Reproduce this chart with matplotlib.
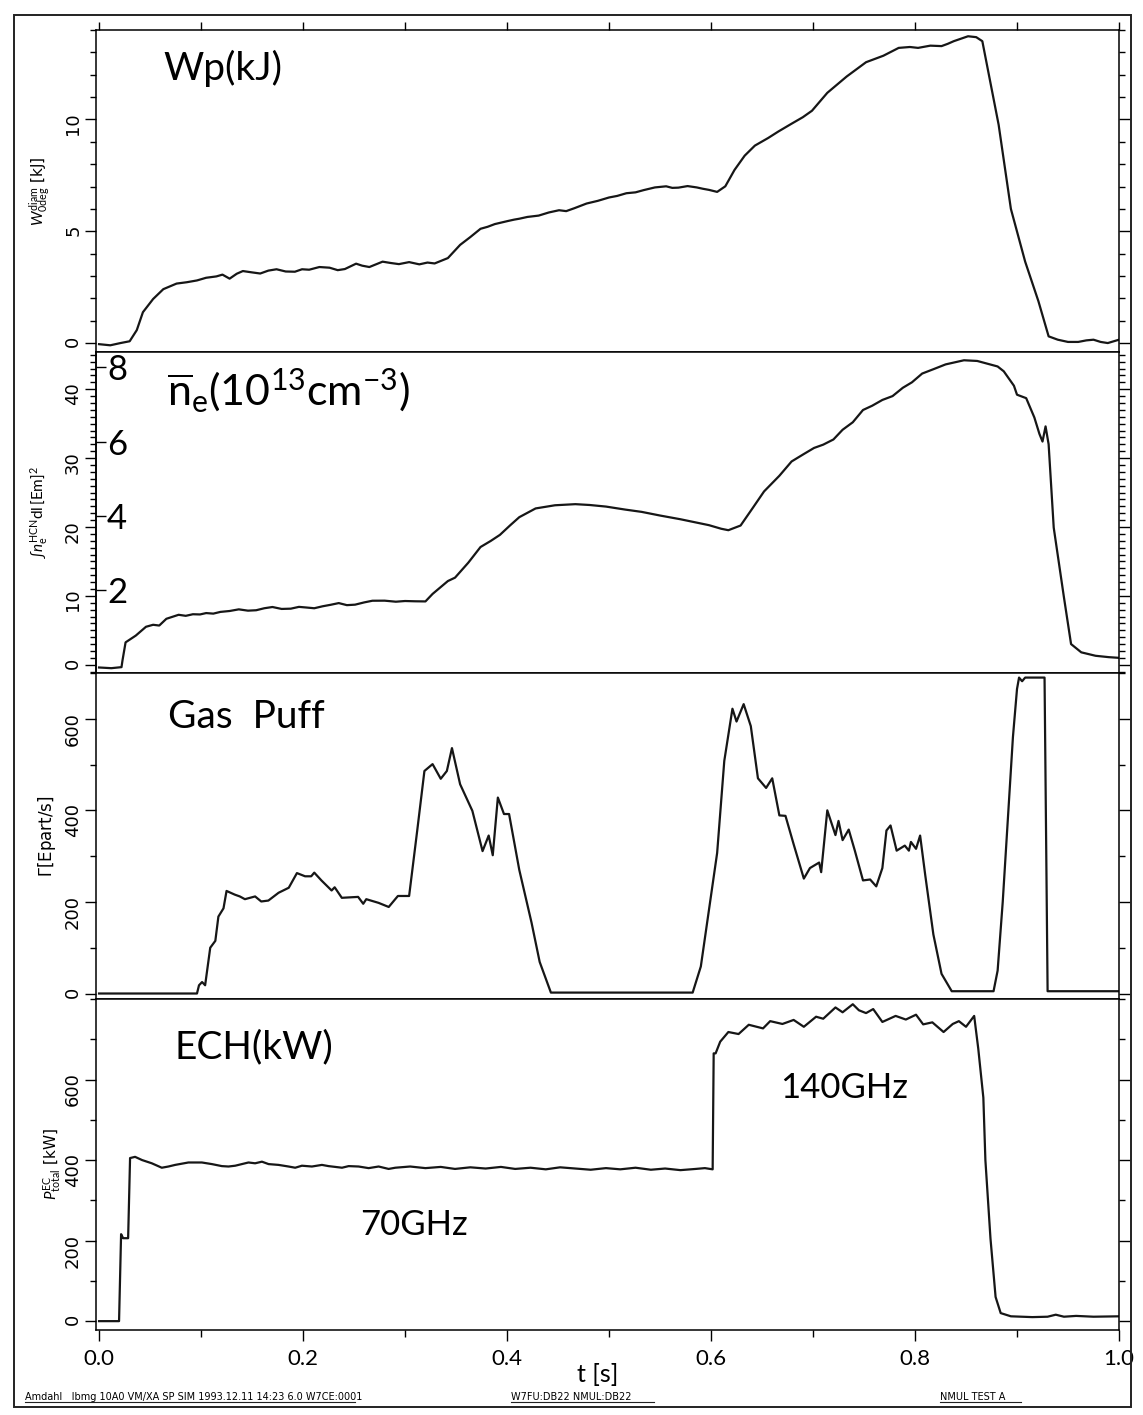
import matplotlib
matplotlib.use("Agg")
import matplotlib.pyplot as plt
from matplotlib.ticker import MultipleLocator, FixedLocator
from matplotlib.lines import Line2D
from matplotlib.patches import Rectangle

plt.rcParams['font.family'] = ['DejaVu Sans']
plt.rcParams['mathtext.fontset'] = 'custom'
plt.rcParams['mathtext.rm'] = 'Lato'
plt.rcParams['mathtext.it'] = 'Lato:italic'
plt.rcParams['mathtext.sf'] = 'Lato'

# ---- shot data: time [s] and signals ----
wp_t = [0.000, 0.011, 0.021, 0.030, 0.037, 0.043, 0.053, 0.063, 0.076, 0.086,
        0.096, 0.105, 0.115, 0.121, 0.128, 0.135, 0.141, 0.150, 0.158, 0.166,
        0.174, 0.183, 0.192, 0.199, 0.206, 0.216, 0.226, 0.234, 0.241, 0.252,
        0.258, 0.265, 0.278, 0.286, 0.294, 0.304, 0.314, 0.322, 0.329, 0.342,
        0.354, 0.364, 0.374, 0.381, 0.388, 0.401, 0.407, 0.412, 0.420, 0.431,
        0.441, 0.451, 0.458, 0.466, 0.478, 0.489, 0.500, 0.508, 0.517, 0.526,
        0.534, 0.545, 0.556, 0.562, 0.568, 0.577, 0.586, 0.592, 0.598, 0.606,
        0.614, 0.623, 0.633, 0.643, 0.656, 0.666, 0.679, 0.690, 0.699, 0.714,
        0.733, 0.752, 0.769, 0.784, 0.795, 0.803, 0.815, 0.826, 0.832, 0.838,
        0.852, 0.860, 0.866, 0.882, 0.894, 0.908, 0.921, 0.931, 0.940, 0.950,
        0.960, 0.968, 0.975, 0.982, 0.989, 1.000]
wp_kj = [-0.05, -0.10, 0.00, 0.08, 0.58, 1.38, 1.97, 2.41, 2.66, 2.72,
         2.80, 2.92, 2.98, 3.06, 2.88, 3.10, 3.22, 3.16, 3.11, 3.24,
         3.30, 3.20, 3.19, 3.30, 3.28, 3.40, 3.37, 3.26, 3.31, 3.55,
         3.46, 3.40, 3.64, 3.58, 3.53, 3.62, 3.52, 3.60, 3.56, 3.80,
         4.39, 4.74, 5.11, 5.20, 5.32, 5.46, 5.52, 5.56, 5.64, 5.70,
         5.84, 5.94, 5.90, 6.03, 6.24, 6.36, 6.51, 6.58, 6.70, 6.74,
         6.84, 6.96, 7.01, 6.94, 6.95, 7.02, 6.96, 6.90, 6.85, 6.76,
         7.01, 7.74, 8.38, 8.83, 9.17, 9.46, 9.81, 10.10, 10.39, 11.19,
         11.92, 12.56, 12.85, 13.20, 13.24, 13.20, 13.30, 13.28, 13.38, 13.50,
         13.72, 13.68, 13.50, 9.76, 6.00, 3.64, 1.87, 0.30, 0.15, 0.05,
         0.05, 0.12, 0.15, 0.05, 0.00, 0.15]

ne_t = [0.000, 0.012, 0.022, 0.023, 0.026, 0.036, 0.046, 0.053, 0.059, 0.066,
        0.078, 0.085, 0.092, 0.099, 0.105, 0.112, 0.119, 0.128, 0.137, 0.146,
        0.154, 0.162, 0.170, 0.179, 0.188, 0.196, 0.203, 0.211, 0.219, 0.227,
        0.235, 0.243, 0.251, 0.260, 0.268, 0.280, 0.291, 0.300, 0.310, 0.320,
        0.327, 0.342, 0.349, 0.362, 0.374, 0.384, 0.393, 0.403, 0.412, 0.428,
        0.447, 0.467, 0.481, 0.497, 0.516, 0.532, 0.550, 0.570, 0.584, 0.598,
        0.610, 0.617, 0.629, 0.641, 0.652, 0.667, 0.679, 0.691, 0.701, 0.710,
        0.720, 0.729, 0.739, 0.749, 0.758, 0.768, 0.778, 0.788, 0.797, 0.807,
        0.818, 0.830, 0.848, 0.861, 0.881, 0.887, 0.897, 0.900, 0.909, 0.917,
        0.922, 0.925, 0.928, 0.931, 0.936, 0.946, 0.953, 0.963, 0.977, 0.990,
        1.000]
ne_int = [-0.40, -0.50, -0.35, 0.65, 3.25, 4.23, 5.51, 5.80, 5.69, 6.67,
          7.25, 7.10, 7.33, 7.30, 7.50, 7.42, 7.67, 7.80, 8.04, 7.85,
          7.91, 8.20, 8.38, 8.10, 8.14, 8.40, 8.31, 8.20, 8.48, 8.70,
          8.95, 8.65, 8.72, 9.05, 9.29, 9.30, 9.15, 9.25, 9.21, 9.19,
          10.28, 12.15, 12.64, 14.81, 17.09, 17.97, 18.85, 20.23, 21.42, 22.69,
          23.15, 23.31, 23.19, 22.96, 22.52, 22.19, 21.66, 21.12, 20.69, 20.26,
          19.74, 19.53, 20.21, 22.78, 25.16, 27.43, 29.51, 30.59, 31.47, 31.95,
          32.70, 34.11, 35.20, 36.98, 37.60, 38.44, 39.00, 40.20, 41.00, 42.27,
          42.90, 43.60, 44.20, 44.10, 43.30, 42.60, 40.50, 39.20, 38.70, 35.90,
          33.50, 32.40, 34.60, 32.00, 19.90, 9.80, 3.00, 1.80, 1.30, 1.10,
          1.00]
ne_ticks = [2, 4, 6, 8]
ne_per_unit = 5.4   # line integral per 10^13 cm^-3

gas_t = [0.000, 0.096, 0.098, 0.101, 0.104, 0.109, 0.114, 0.117, 0.122, 0.125,
         0.133, 0.138, 0.143, 0.153, 0.159, 0.166, 0.176, 0.186, 0.194, 0.202,
         0.208, 0.211, 0.218, 0.228, 0.231, 0.238, 0.254, 0.259, 0.262, 0.274,
         0.284, 0.293, 0.304, 0.312, 0.319, 0.327, 0.335, 0.341, 0.346, 0.354,
         0.366, 0.376, 0.382, 0.386, 0.391, 0.397, 0.402, 0.412, 0.424, 0.432,
         0.443, 0.582, 0.590, 0.606, 0.613, 0.621, 0.625, 0.632, 0.639, 0.646,
         0.654, 0.660, 0.667, 0.673, 0.681, 0.691, 0.697, 0.706, 0.708, 0.714,
         0.722, 0.725, 0.729, 0.735, 0.741, 0.749, 0.756, 0.762, 0.768, 0.772,
         0.776, 0.782, 0.790, 0.794, 0.796, 0.801, 0.805, 0.810, 0.818, 0.826,
         0.836, 0.877, 0.881, 0.886, 0.891, 0.896, 0.900, 0.902, 0.905, 0.908,
         0.927, 0.930, 1.000]
gas_rate = [0, 0, 18, 25, 18, 100, 115, 168, 186, 224,
            216, 212, 206, 212, 201, 203, 220, 231, 263, 256,
            256, 264, 247, 225, 232, 209, 211, 196, 206, 198,
            189, 213, 213, 357, 486, 501, 469, 486, 536, 457,
            399, 311, 345, 302, 428, 392, 392, 270, 155, 69,
            2, 2, 59, 307, 508, 622, 594, 632, 584, 470,
            449, 470, 389, 388, 326, 251, 274, 286, 265, 400,
            346, 377, 335, 358, 312, 247, 249, 234, 274, 356,
            367, 312, 323, 312, 331, 316, 345, 259, 129, 43,
            5, 5, 50, 200, 380, 560, 665, 690, 682, 690,
            690, 5, 5]

ech_t = [0.000, 0.0196, 0.0216, 0.0236, 0.0285, 0.0304, 0.0353, 0.0422, 0.0517, 0.0615,
         0.068, 0.0746, 0.0876, 0.1008, 0.1106, 0.1204, 0.1269, 0.1335, 0.140, 0.1465,
         0.153, 0.1597, 0.1662, 0.176, 0.1858, 0.1923, 0.1989, 0.2087, 0.2185, 0.225,
         0.2382, 0.2447, 0.2545, 0.2643, 0.2741, 0.2839, 0.2905, 0.305, 0.320, 0.335,
         0.349, 0.364, 0.379, 0.394, 0.408, 0.423, 0.438, 0.452, 0.467, 0.482,
         0.497, 0.511, 0.526, 0.541, 0.555, 0.570, 0.585, 0.594, 0.6016, 0.6026,
         0.6045, 0.609, 0.617, 0.627, 0.637, 0.651, 0.658, 0.670, 0.681, 0.691,
         0.703, 0.710, 0.722, 0.729, 0.739, 0.745, 0.752, 0.759, 0.768, 0.781,
         0.791, 0.801, 0.808, 0.817, 0.828, 0.837, 0.843, 0.850, 0.858, 0.862,
         0.867, 0.869, 0.874, 0.879, 0.884, 0.894, 0.915, 0.930, 0.938, 0.946,
         0.958, 0.975, 1.000]
ech_kw = [0, 0, 216, 206, 206, 405, 408, 400, 392, 381,
          384, 388, 394, 394, 390, 385, 384, 386, 390, 394,
          392, 396, 390, 388, 384, 381, 386, 384, 388, 385,
          381, 385, 384, 380, 384, 378, 381, 384, 380, 383,
          378, 382, 379, 383, 378, 381, 377, 382, 379, 376,
          380, 377, 381, 376, 379, 375, 378, 380, 377, 665,
          665, 694, 718, 713, 736, 727, 745, 738, 748, 731,
          756, 751, 779, 767, 787, 772, 765, 775, 743, 758,
          749, 761, 737, 742, 718, 738, 745, 731, 758, 677,
          555, 400, 205, 60, 20, 12, 10, 11, 16, 11,
          13, 11, 12]

W, H = 1143, 1415
fig = plt.figure(figsize=(W / 100, H / 100), dpi=100)

LEFT, RIGHT = 96, 1119
NARROW = ['DejaVu Sans Condensed', 'Liberation Sans Narrow', 'Nimbus Sans Narrow',
          'Arial Narrow', 'DejaVu Sans']
BIGFONT = dict(family=['Lato', 'DejaVu Sans'], weight='normal')


def panel(top, bottom):
    return fig.add_axes([LEFT / W, 1 - bottom / H, (RIGHT - LEFT) / W, (bottom - top) / H])


def style(ax, ylim, majors, minor):
    ax.set_xlim(-0.003, 1.0)
    ax.set_ylim(*ylim)
    ax.yaxis.set_major_locator(FixedLocator(majors))
    ax.yaxis.set_minor_locator(MultipleLocator(minor))
    ax.xaxis.set_major_locator(MultipleLocator(0.2))
    ax.xaxis.set_minor_locator(MultipleLocator(0.1))
    ax.tick_params(axis='y', which='both', direction='out', left=True, right=True,
                   labelleft=True, labelright=False, labelrotation=90, labelsize=13,
                   pad=2, width=1.0, labelfontfamily=NARROW)
    ax.tick_params(axis='y', which='major', length=8)
    ax.tick_params(axis='y', which='minor', length=4.5)
    ax.tick_params(axis='x', which='both', top=False, bottom=False, labelbottom=False)
    for s in ax.spines.values():
        s.set_linewidth(1.1)


LINE = dict(color='#161616', lw=1.6)
BIG = 28

# Wp
ax1 = panel(30, 352)
ax1.plot(wp_t, wp_kj, **LINE)
style(ax1, (-0.4, 14.0), [0, 5, 10], 1)
ax1.tick_params(axis='x', which='both', top=True, direction='out', length=6, width=1.0)
ax1.set_ylabel(r'$W^{\rm diam}_{\rm 0deg}$ [kJ]', fontsize=11, family=NARROW)
ax1.yaxis.set_label_coords(-0.042, 0.5)
ax1.text(0.0655, 0.882, 'Wp(kJ)', transform=ax1.transAxes, fontsize=BIG, va='center', **BIGFONT)

# line density
ax2 = panel(352, 673)
ax2.plot(ne_t, ne_int, **LINE)
style(ax2, (-1.2, 45.4), [0, 10, 20, 30, 40], 1)
ax2.set_ylabel(r'$\int n_{\rm e}^{\rm HCN}{\rm dl}\,[{\rm Em}]^2$', fontsize=11, family=NARROW)
ax2.yaxis.set_label_coords(-0.045, 0.5)
ax2.text(0.069, 0.882, r'$\overline{\rm n}_{\rm e}(10^{13}{\rm cm}^{-3})$',
         transform=ax2.transAxes, fontsize=31, va='center')
sec = ax2.secondary_yaxis(0, functions=(lambda v: v / ne_per_unit, lambda n: n * ne_per_unit))
sec.set_alignment('right')
sec.set_yticks(ne_ticks)
sec.tick_params(axis='y', which='major', direction='out', length=7, width=1.0,
                labelsize=25, pad=1, labelfontfamily=BIGFONT['family'])
sec.spines['right'].set_linewidth(1.1)

# gas puff
ax3 = panel(673, 999)
ax3.plot(gas_t, gas_rate, **LINE)
style(ax3, (-12, 700), [0, 200, 400, 600], 100)
ax3.set_ylabel(r'$\Gamma$[Epart/s]', fontsize=12, family=NARROW)
ax3.yaxis.set_label_coords(-0.037, 0.5)
ax3.text(0.0704, 0.865, 'Gas  Puff', transform=ax3.transAxes, fontsize=BIG, va='center', **BIGFONT)

# ECH power
ax4 = panel(999, 1330)
ax4.plot(ech_t, ech_kw, **LINE)
style(ax4, (-22, 800), [0, 200, 400, 600], 100)
ax4.tick_params(axis='x', which='both', bottom=True, labelbottom=True, direction='out',
                labelsize=16, pad=6, width=1.0, labelfontfamily=BIGFONT['family'])
ax4.tick_params(axis='x', which='major', length=8)
ax4.tick_params(axis='x', which='minor', length=5)
ax4.set_ylabel(r'$P^{\rm EC}_{\rm total}$ [kW]', fontsize=11, family=NARROW)
ax4.yaxis.set_label_coords(-0.032, 0.5)
ax4.set_xlabel('t [s]', fontsize=18, **BIGFONT)
ax4.xaxis.set_label_coords(0.49, -0.10)
ax4.text(0.0772, 0.855, 'ECH(kW)', transform=ax4.transAxes, fontsize=BIG, va='center', **BIGFONT)
ax4.text(0.258, 0.317, '70GHz', transform=ax4.transAxes, fontsize=25, va='center', **BIGFONT)
ax4.text(0.669, 0.731, '140GHz', transform=ax4.transAxes, fontsize=25, va='center', **BIGFONT)

# page frame and print stamps
fig.add_artist(Rectangle((14 / W, 1 - 1407 / H), (1131 - 14) / W, (1407 - 15) / H,
                         transform=fig.transFigure, fill=False, lw=1.4, ec='#222222'))
stamps = [(25, 'Amdahl   Ibmg 10A0 VM/XA SP SIM 1993.12.11 14:23 6.0 W7CE:0001', 330),
          (511, 'W7FU:DB22 NMUL:DB22', 143),
          (940, 'NMUL TEST A', 81)]
for x0, txt, wpx in stamps:
    fig.text(x0 / W, 1 - 1400 / H, txt, fontsize=7, family=NARROW, va='baseline')
    fig.add_artist(Line2D([x0 / W, (x0 + wpx) / W], [1 - 1402 / H] * 2,
                          transform=fig.transFigure, lw=0.8, color='#222222'))

fig.savefig('out.png', dpi=100)
